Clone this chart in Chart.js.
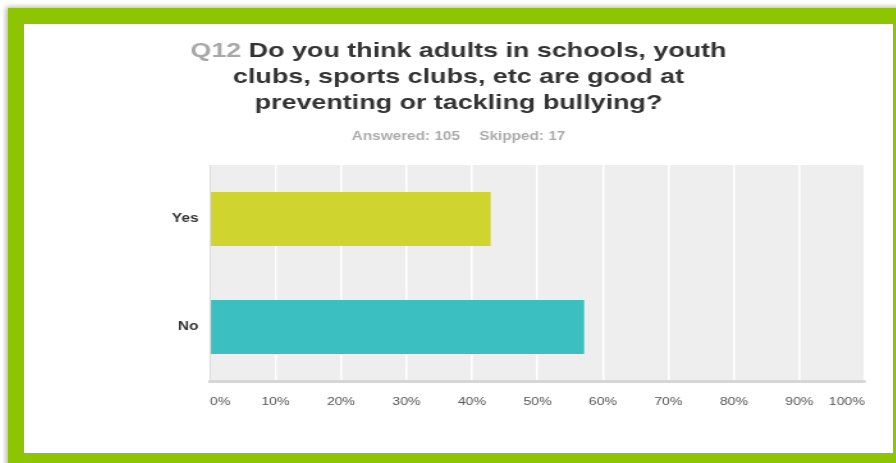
<!DOCTYPE html>
<html>
<head>
<meta charset="utf-8">
<script src="https://cdn.jsdelivr.net/npm/chart.js@4.4.0/dist/chart.umd.min.js"></script>
<style>
  html, body { margin: 0; padding: 0; background: #fff; }
  body { width: 896px; height: 463px; overflow: hidden; position: relative; }
  .frame {
    position: absolute; left: 8px; top: 8px;
    width: 869px; height: 429px;
    border: 16px solid #8dc600;
    background: #fff;
    box-shadow: -2px -1px 5px rgba(0, 0, 0, 0.3);
  }
  /* the survey export is drawn a bit wide, so the chart is stretched horizontally */
  .stretch {
    position: absolute; left: 0; top: 0;
    width: 679px; height: 429px;
    transform: scaleX(1.2798); transform-origin: 0 0;
  }
</style>
</head>
<body>
<div class="frame"><div class="stretch"><canvas id="chart"></canvas></div></div>
<script>
const categories = ['Yes', 'No'];
const percents = [42.86, 57.14];
const barColors = ['#cfd42e', '#3bbfc0'];
const xTicks = [0, 10, 20, 30, 40, 50, 60, 70, 80, 90, 100];

const questionNo = 'Q12';
const titleLines = [
    'Do you think adults in schools, youth',
    'clubs, sports clubs, etc are good at',
    'preventing or tackling bullying?'
];
const answered = 105;
const skipped = 17;

const FONT = '"Liberation Sans", Arial, sans-serif';

// grey plot background behind the grid
const plotBackground = {
    id: 'plotBackground',
    beforeDraw(chart) {
        const a = chart.chartArea;
        const ctx = chart.ctx;
        ctx.save();
        ctx.fillStyle = '#eeeeee';
        ctx.fillRect(a.left, a.top, a.right - a.left, a.bottom - a.top);
        ctx.restore();
    }
};

// question title (number in grey) and the answered / skipped line
const header = {
    id: 'header',
    afterDraw(chart) {
        const ctx = chart.ctx;
        const cx = chart.width / 2;
        ctx.save();
        ctx.textAlign = 'left';
        ctx.textBaseline = 'alphabetic';
        ctx.font = 'bold 21px ' + FONT;
        titleLines.forEach(function (line, i) {
            const y = 33 + i * 26;
            const prefix = i === 0 ? questionNo + ' ' : '';
            let x = cx - ctx.measureText(prefix + line).width / 2;
            if (prefix) {
                ctx.fillStyle = '#a8a8a8';
                ctx.fillText(prefix, x, y);
                x += ctx.measureText(prefix).width;
            }
            ctx.fillStyle = '#333333';
            ctx.fillText(line, x, y);
        });

        ctx.font = 'bold 12px ' + FONT;
        ctx.fillStyle = '#ababab';
        const a = 'Answered: ' + answered;
        const s = 'Skipped: ' + skipped;
        const gap = 15;
        const wa = ctx.measureText(a).width;
        const ws = ctx.measureText(s).width;
        const x0 = cx - (wa + gap + ws) / 2;
        ctx.fillText(a, x0, 116);
        ctx.fillText(s, x0 + wa + gap, 116);
        ctx.restore();
    }
};

new Chart(document.getElementById('chart').getContext('2d'), {
    type: 'bar',
    data: {
        labels: categories,
        datasets: [{
            data: percents,
            backgroundColor: barColors,
            borderWidth: 0,
            categoryPercentage: 0.5,
            barPercentage: 1
        }]
    },
    options: {
        indexAxis: 'y',
        responsive: true,
        maintainAspectRatio: false,
        animation: false,
        layout: { padding: { top: 141, right: 22, bottom: 0, left: 0 } },
        plugins: {
            legend: { display: false },
            tooltip: { enabled: false }
        },
        scales: {
            x: {
                min: xTicks[0],
                max: xTicks[xTicks.length - 1],
                afterFit: function (scale) { scale.height = 72; },
                afterBuildTicks: function (scale) {
                    scale.ticks = xTicks.map(function (v) { return { value: v }; });
                },
                ticks: {
                    align: 'inner',
                    padding: 14,
                    color: '#555555',
                    font: { family: FONT, size: 11 },
                    callback: function (v) { return v + '%'; }
                },
                grid: {
                    color: function (c) { return c.tick && c.tick.value === 0 ? 'rgba(0,0,0,0)' : '#ffffff'; },
                    lineWidth: 1.6,
                    drawTicks: false
                },
                border: { color: '#d6d6d6', width: 3 }
            },
            y: {
                afterFit: function (scale) { scale.width = 145.3; },
                ticks: {
                    padding: 9,
                    color: '#333333',
                    font: { family: FONT, size: 12, weight: 'bold' }
                },
                grid: { display: false, drawTicks: false },
                border: { color: '#dcdcdc', width: 1 }
            }
        }
    },
    plugins: [plotBackground, header]
});
</script>
</body>
</html>
